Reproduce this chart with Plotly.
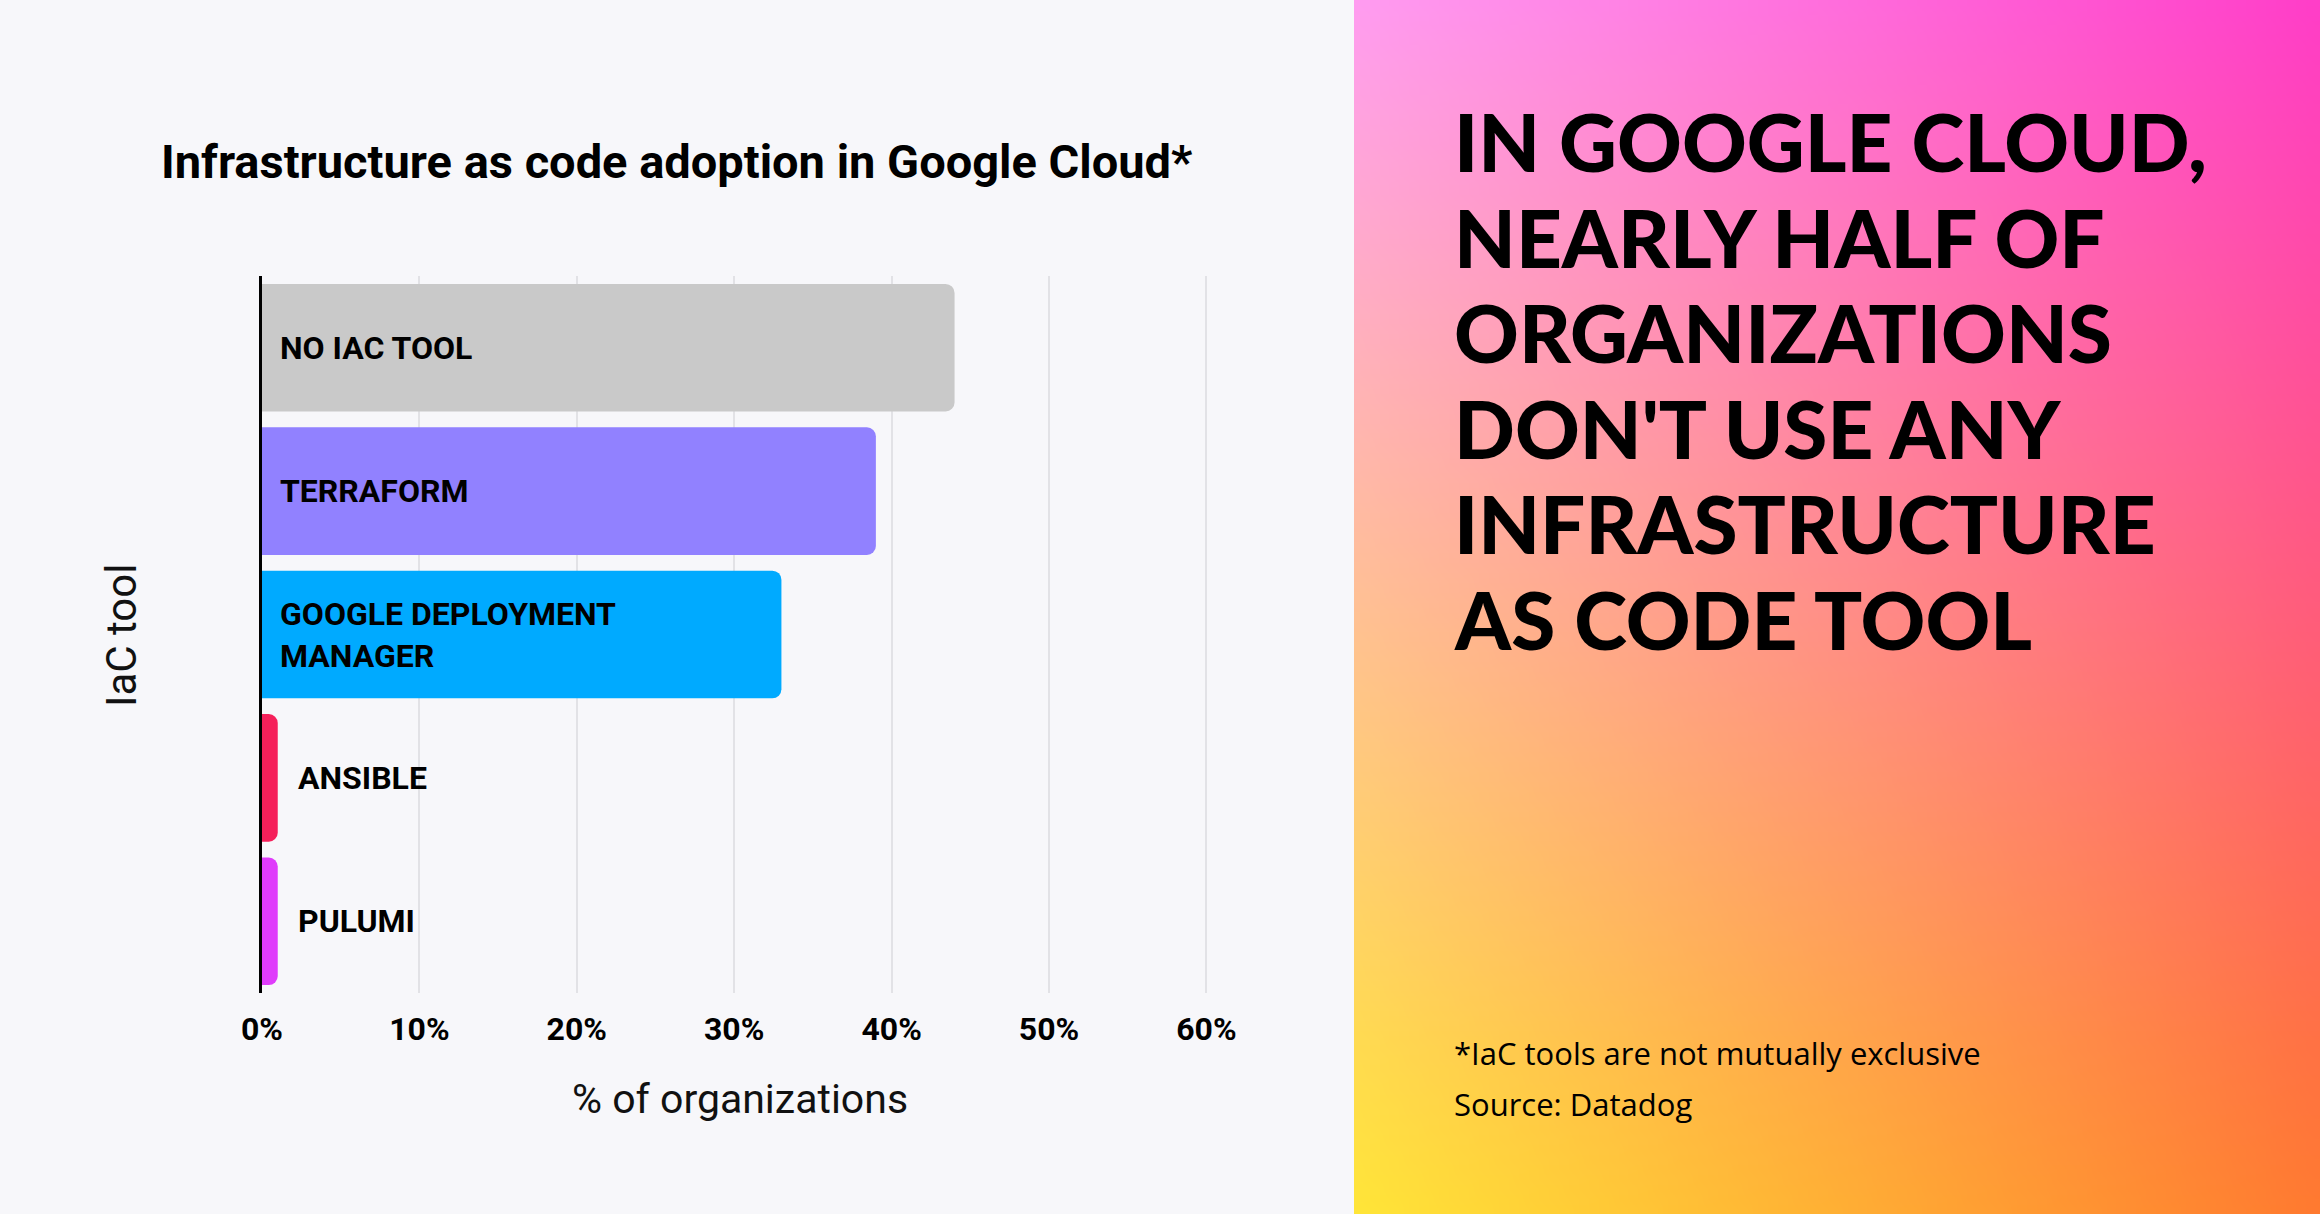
import zlib, struct, base64
import plotly.graph_objects as go

# ---------------- data ----------------
categories = ["NO IAC TOOL", "TERRAFORM", "GOOGLE DEPLOYMENT MANAGER", "ANSIBLE", "PULUMI"]
bar_labels = ["NO IAC TOOL", "TERRAFORM", "GOOGLE DEPLOYMENT<br>MANAGER", "ANSIBLE", "PULUMI"]
values = [44, 39, 33, 1, 1]
tick_values = [0, 10, 20, 30, 40, 50, 60]
tick_labels = ["0%", "10%", "20%", "30%", "40%", "50%", "60%"]
title_text = "Infrastructure as code adoption in Google Cloud*"
x_title = "% of organizations"
y_title = "IaC tool"
headline_lines = ["IN GOOGLE CLOUD,", "NEARLY HALF OF", "ORGANIZATIONS",
                  "DON'T USE ANY", "INFRASTRUCTURE", "AS CODE TOOL"]
footnotes = ["*IaC tools are not mutually exclusive", "Source: Datadog"]

# ---------------- styles ----------------
bar_colors = ["#c9c9c9", "#9181ff", "#00aaff", "#f5205a", "#df3cfb"]
bg_left = "#f7f7fa"
grad_corners = {"tl": (255, 156, 240), "tr": (255, 62, 200),
                "bl": (255, 229, 56), "br": (255, 122, 48)}

W, H = 2320, 1214
L, R, T, B = 262, 1219, 276, 993


def px_x(p):
    return (p - L) / (R - L)


def px_y(p):
    return (B - p) / (B - T)


# ---------------- gradient background image (right panel) ----------------
def make_png(w, h):
    rows = []
    tl, tr, bl, br = grad_corners["tl"], grad_corners["tr"], grad_corners["bl"], grad_corners["br"]
    for j in range(h):
        v = j / (h - 1)
        row = bytearray()
        for i in range(w):
            u = i / (w - 1)
            for k in range(3):
                top = tl[k] * (1 - u) + tr[k] * u
                bot = bl[k] * (1 - u) + br[k] * u
                row.append(int(round(top * (1 - v) + bot * v)))
        rows.append(b"\x00" + bytes(row))
    raw = b"".join(rows)

    def chunk(t, d):
        c = struct.pack(">I", len(d)) + t + d
        return c + struct.pack(">I", zlib.crc32(t + d) & 0xffffffff)

    return (b"\x89PNG\r\n\x1a\n"
            + chunk(b"IHDR", struct.pack(">IIBBBBB", w, h, 8, 2, 0, 0, 0))
            + chunk(b"IDAT", zlib.compress(raw, 9))
            + chunk(b"IEND", b""))


png_src = "data:image/png;base64," + base64.b64encode(make_png(97, 122)).decode()

# ---------------- figure ----------------
fig = go.Figure()
fig.add_trace(go.Bar(
    x=values, y=categories, orientation="h",
    marker=dict(color=bar_colors, cornerradius=9, line=dict(width=0)),
    hoverinfo="skip", showlegend=False,
))

annotations = []
# chart title
annotations.append(dict(text=title_text, xref="paper", yref="paper",
                        x=px_x(677), y=px_y(162), xanchor="center", yanchor="middle",
                        showarrow=False,
                        font=dict(family="Roboto", size=47, color="#000000", weight=700)))
# axis titles
annotations.append(dict(text=x_title, xref="paper", yref="paper",
                        x=px_x(740), y=px_y(1099), xanchor="center", yanchor="middle",
                        showarrow=False,
                        font=dict(family="Roboto", size=41, color="#111111")))
annotations.append(dict(text=y_title, xref="paper", yref="paper",
                        x=px_x(121), y=px_y(636), xanchor="center", yanchor="middle",
                        textangle=-90, showarrow=False,
                        font=dict(family="Roboto", size=42, color="#111111")))
# bar labels
for cat, lab, val in zip(categories, bar_labels, values):
    annotations.append(dict(text=lab, xref="x", yref="y", x=0, y=cat,
                            xanchor="left", yanchor="middle", align="left",
                            xshift=16 if val > 5 else 34, showarrow=False,
                            font=dict(family="Roboto", size=32, color="#000000", weight=700)))
# headline on right panel
for i, line in enumerate(headline_lines):
    annotations.append(dict(text=line, xref="paper", yref="paper",
                            x=px_x(1452), y=px_y(141 + i * 95.5),
                            xanchor="left", yanchor="middle", showarrow=False,
                            font=dict(family="Lato", size=80, color="#000000", weight=900)))
# footnotes
for i, line in enumerate(footnotes):
    annotations.append(dict(text=line, xref="paper", yref="paper",
                            x=px_x(1452), y=px_y(1053 + i * 51),
                            xanchor="left", yanchor="middle", showarrow=False,
                            font=dict(family="Open Sans", size=31, color="#000000")))

fig.update_layout(
    width=W, height=H,
    margin=dict(l=L, r=W - R, t=T, b=H - B, pad=0),
    paper_bgcolor=bg_left, plot_bgcolor=bg_left,
    bargap=0.11,
    annotations=annotations,
    images=[dict(source=png_src, xref="paper", yref="paper",
                 x=px_x(1354), y=px_y(0), sizex=(W - 1354) / (R - L), sizey=H / (B - T),
                 xanchor="left", yanchor="top", sizing="stretch", layer="below")],
    xaxis=dict(range=[0, 60.8], tickvals=tick_values, ticktext=tick_labels,
               showgrid=True, gridcolor="#e2e2e6", gridwidth=1.5, zeroline=False,
               showline=False, ticks="outside", ticklen=8, tickcolor="rgba(0,0,0,0)",
               tickfont=dict(family="Roboto", size=32, color="#000000", weight=700),
               fixedrange=True),
    yaxis=dict(categoryorder="array", categoryarray=categories, autorange="reversed",
               showticklabels=False, showgrid=False, zeroline=False,
               showline=True, linecolor="#000000", linewidth=2.5, ticks="",
               fixedrange=True),
)

fig.write_html("out.html", config={"displayModeBar": False},
               post_script="document.body.style.margin='0px';")
